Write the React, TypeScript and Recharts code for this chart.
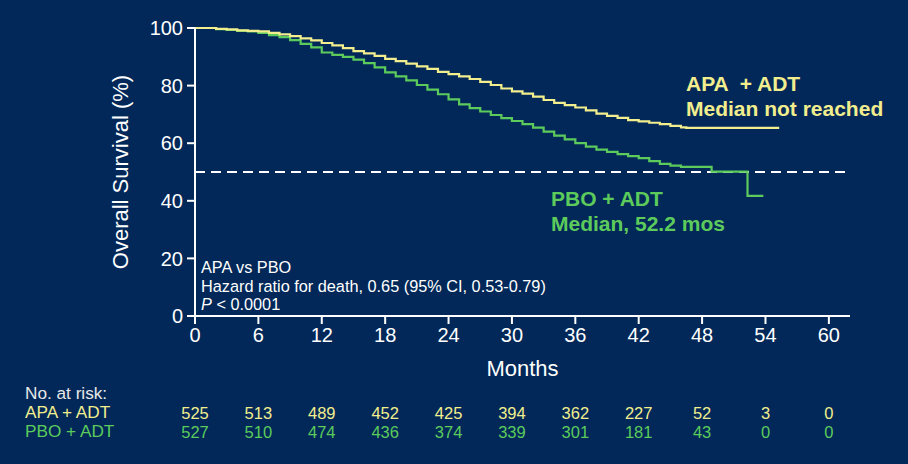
import React from 'react'
import { LineChart, Line, XAxis, YAxis, ReferenceLine } from 'recharts'

// Kaplan-Meier curves (months, % surviving)
const apaMonths = [0, 1, 2, 3, 4, 5, 6, 7, 8, 9, 10, 11, 12, 13, 14, 15, 16, 17, 18, 19, 20, 21, 22, 23, 24, 25, 26, 27, 28, 29, 30, 31, 32, 33, 34, 35, 36, 37, 38, 39, 40, 41, 42, 43, 44, 45, 46, 46.5, 55.3]
const apaSurvival = [100, 100, 99.7, 99.5, 99.2, 99, 98.8, 98.3, 97.8, 97.2, 96.4, 95.7, 94.8, 94, 93, 92, 91.2, 90.3, 89.3, 88.5, 87.6, 86.7, 85.8, 84.8, 84, 83.2, 82.3, 81.3, 80.2, 79, 78, 77.2, 76.2, 75, 74, 73.2, 72.4, 71.4, 70.3, 69.5, 68.8, 68, 67.6, 67.1, 66.6, 66, 65.5, 65.3, 65.3]

const pboMonths = [0, 1, 2, 3, 4, 5, 6, 7, 8, 9, 10, 11, 12, 13, 14, 15, 16, 17, 18, 19, 20, 21, 22, 23, 24, 25, 26, 27, 28, 29, 30, 31, 32, 33, 34, 35, 36, 37, 38, 39, 40, 41, 42, 43, 44, 45, 46, 48.9, 52.3, 53.8]
const pboSurvival = [100, 100, 99.6, 99.3, 99, 98.8, 98.3, 97.5, 96.8, 95.8, 94.5, 93.3, 91.5, 90.7, 90, 89, 87.8, 86.3, 84.6, 83.2, 81.8, 80.2, 78.6, 77, 75.2, 73.5, 72.2, 71, 69.8, 68.7, 67.7, 66.6, 65.4, 64, 62.6, 61.3, 60, 58.8, 57.8, 57, 56.2, 55.5, 54.8, 53.8, 52.8, 52.2, 51.8, 50.1, 41.7, 41.7]

const monthTicks = [0, 6, 12, 18, 24, 30, 36, 42, 48, 54, 60]
const survivalTicks = [0, 20, 40, 60, 80, 100]
const apaAtRisk = [525, 513, 489, 452, 425, 394, 362, 227, 52, 3, 0]
const pboAtRisk = [527, 510, 474, 436, 374, 339, 301, 181, 43, 0, 0]

const BG = '#012858'
const YELLOW = '#f2ee8e'
const GREEN = '#5ccb5c'
const FONT = '"Liberation Sans", Arial, sans-serif'

const apaData = apaMonths.map((m, i) => ({ month: m, surv: apaSurvival[i] }))
const pboData = pboMonths.map((m, i) => ({ month: m, surv: pboSurvival[i] }))

// x tick: month label plus the two "at risk" numbers under it
function MonthTick(props: any) {
  const { x, y, payload, index } = props
  return (
    <g fontFamily={FONT} textAnchor="middle">
      <text x={x} y={y} dy="0.71em" fontSize={20} fill="#ffffff">{payload.value}</text>
      <text x={x} y={y + 91} fontSize={16.5} fill={YELLOW}>{apaAtRisk[index]}</text>
      <text x={x} y={y + 110} fontSize={16.5} fill={GREEN}>{pboAtRisk[index]}</text>
    </g>
  )
}

export default function App() {
  return (
    <div style={{ position: 'absolute', left: 0, top: 0, width: 908, height: 464, background: BG, fontFamily: FONT, overflow: 'hidden' }}>
      <LineChart width={908} height={464} margin={{ top: 28, right: 58, bottom: 118, left: 150 }}>
        <XAxis
          dataKey="month"
          type="number"
          domain={[0, 62]}
          ticks={monthTicks}
          allowDuplicatedCategory={false}
          stroke="#ffffff"
          strokeWidth={2}
          tickSize={8}
          tickMargin={4}
          height={30}
          tick={<MonthTick />}
          label={{ value: 'Months', position: 'insideBottom', offset: -30, fill: '#ffffff', fontSize: 22, fontFamily: FONT }}
        />
        <YAxis
          dataKey="surv"
          type="number"
          domain={[0, 100]}
          ticks={survivalTicks}
          width={45}
          stroke="#ffffff"
          strokeWidth={2}
          tickSize={8}
          tickMargin={4}
          tick={{ fill: '#ffffff', fontSize: 20, fontFamily: FONT }}
          label={{
            content: ({ viewBox }: any) => {
              const cy = viewBox.y + viewBox.height / 2
              return (
                <text x={120} y={cy} transform={`rotate(-90 120 ${cy})`} textAnchor="middle" dominantBaseline="central" fill="#ffffff" fontSize={22} fontFamily={FONT}>
                  Overall Survival (%)
                </text>
              )
            },
          }}
        />
        {/* axis baseline carried to the end of the domain */}
        <ReferenceLine segment={[{ x: 0, y: 0 }, { x: 62, y: 0 }]} stroke="#ffffff" strokeWidth={2} />
        <ReferenceLine y={50} stroke="#ffffff" strokeWidth={2} strokeDasharray="10 6" />
        <Line data={pboData} dataKey="surv" type="stepAfter" stroke={GREEN} strokeWidth={2.2} dot={false} isAnimationActive={false} />
        <Line data={apaData} dataKey="surv" type="stepAfter" stroke={YELLOW} strokeWidth={2.2} dot={false} isAnimationActive={false} />
      </LineChart>

      <div style={{ position: 'absolute', left: 686, top: 71, color: YELLOW, fontWeight: 'bold', fontSize: 21, lineHeight: '25px', whiteSpace: 'pre' }}>
        <div>APA  + ADT</div>
        <div>Median not reached</div>
      </div>
      <div style={{ position: 'absolute', left: 551, top: 186, color: GREEN, fontWeight: 'bold', fontSize: 21, lineHeight: '25px', whiteSpace: 'pre' }}>
        <div>PBO + ADT</div>
        <div>Median, 52.2 mos</div>
      </div>
      <div style={{ position: 'absolute', left: 201, top: 258, color: '#ffffff', fontSize: 16.3, lineHeight: '18.5px', whiteSpace: 'pre' }}>
        <div>APA vs PBO</div>
        <div>Hazard ratio for death, 0.65 (95% CI, 0.53-0.79)</div>
        <div><i>P</i> &lt; 0.0001</div>
      </div>
      <div style={{ position: 'absolute', left: 25, top: 384, fontSize: 17.2, lineHeight: '19px', whiteSpace: 'pre' }}>
        <div style={{ color: '#e8e8e8' }}>No. at risk:</div>
        <div style={{ color: YELLOW }}>APA + ADT</div>
        <div style={{ color: GREEN }}>PBO + ADT</div>
      </div>
    </div>
  )
}
